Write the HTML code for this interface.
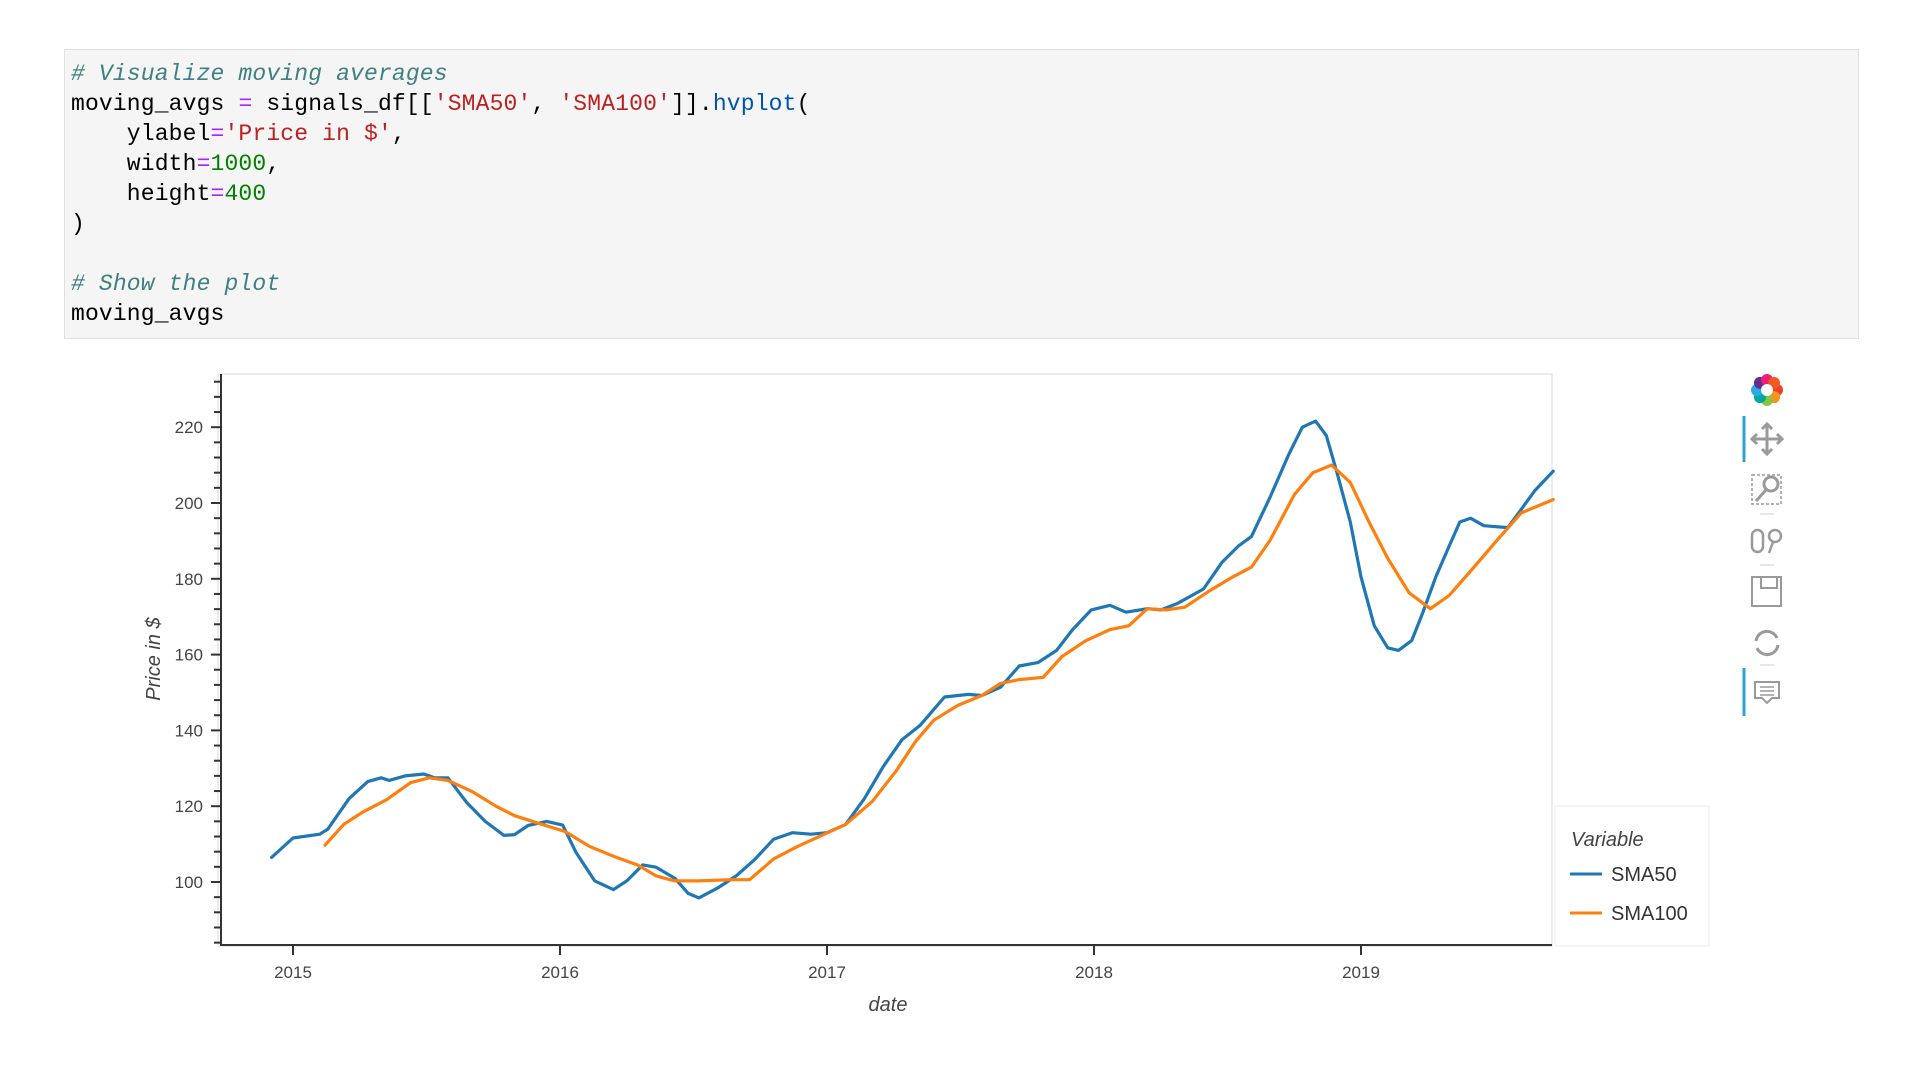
<!DOCTYPE html>
<html><head><meta charset="utf-8"><style>
html,body{margin:0;padding:0;background:#fff;width:1920px;height:1080px;overflow:hidden}
#code{position:absolute;left:64px;top:49px;width:1795px;height:290px;background:#f5f5f5;border:1px solid #e0e0e0;box-sizing:border-box}
#code pre{margin:0;position:absolute;left:6px;top:9px;font-family:"Liberation Mono","DejaVu Sans Mono",monospace;font-size:23px;line-height:30px;color:#000;letter-spacing:0.15px}
.c{color:#408080;font-style:italic}.s{color:#ba2121}.o{color:#aa22ff}.n{color:#008000}.f{color:#0055aa}
svg{position:absolute;left:0;top:0}
</style></head><body>
<div id="code"><pre><span class="c"># Visualize moving averages</span>
moving_avgs <span class="o">=</span> signals_df[[<span class="s">'SMA50'</span>, <span class="s">'SMA100'</span>]].<span class="f">hvplot</span>(
    ylabel<span class="o">=</span><span class="s">'Price in $'</span>,
    width<span class="o">=</span><span class="n">1000</span>,
    height<span class="o">=</span><span class="n">400</span>
)

<span class="c"># Show the plot</span>
moving_avgs</pre></div>
<svg id="chart" width="1920" height="1080" xmlns="http://www.w3.org/2000/svg"></svg>
<script>
const sma50Years=[2014.92,2015.00,2015.10,2015.13,2015.21,2015.28,2015.33,2015.36,2015.42,2015.49,2015.53,2015.58,2015.65,2015.72,2015.79,2015.83,2015.88,2015.95,2016.01,2016.06,2016.13,2016.20,2016.25,2016.31,2016.36,2016.43,2016.48,2016.52,2016.59,2016.66,2016.73,2016.80,2016.87,2016.94,2017.00,2017.07,2017.14,2017.21,2017.28,2017.35,2017.44,2017.53,2017.58,2017.65,2017.72,2017.79,2017.86,2017.92,2017.99,2018.06,2018.12,2018.20,2018.25,2018.31,2018.41,2018.48,2018.54,2018.59,2018.66,2018.73,2018.78,2018.83,2018.87,2018.91,2018.96,2019.00,2019.05,2019.10,2019.14,2019.19,2019.23,2019.28,2019.33,2019.37,2019.41,2019.46,2019.55,2019.60,2019.65,2019.72];
const sma50Values=[106.5,111.6,112.6,113.9,122,126.5,127.5,126.8,128,128.5,127.5,127.5,121,116,112.3,112.5,114.9,116,115,107.8,100.3,98,100.3,104.5,103.9,101,97,95.8,98.4,101.6,106,111.3,113,112.6,113,115.2,122,130.4,137.5,141.4,148.8,149.5,149.2,151.4,157,157.9,161.1,166.6,171.8,173,171.2,172.1,171.8,173.4,177.3,184.4,188.6,191.2,201.6,212.9,220,221.6,217.8,208,195,180.5,167.6,161.8,161.1,163.7,170.8,180.5,188.6,195,196,194,193.5,198.3,203.2,208.4];
const sma100Years=[2015.12,2015.19,2015.26,2015.35,2015.44,2015.51,2015.58,2015.67,2015.76,2015.83,2015.92,2016.02,2016.11,2016.20,2016.29,2016.36,2016.43,2016.52,2016.64,2016.71,2016.80,2016.89,2016.98,2017.07,2017.17,2017.26,2017.33,2017.40,2017.49,2017.58,2017.65,2017.72,2017.81,2017.88,2017.97,2018.06,2018.13,2018.20,2018.27,2018.34,2018.43,2018.52,2018.59,2018.66,2018.75,2018.82,2018.89,2018.96,2019.03,2019.10,2019.18,2019.26,2019.33,2019.42,2019.51,2019.60,2019.72];
const sma100Values=[109.7,115.2,118.4,121.7,126.2,127.5,126.8,123.9,120,117.5,115.5,113.3,109.4,106.8,104.5,101.6,100.3,100.3,100.6,100.6,106.1,109.4,112.3,115.2,121.3,129.4,136.9,142.7,146.6,149.2,152.4,153.4,154,159.5,163.7,166.6,167.6,172.1,171.8,172.5,176.7,180.5,183.1,190.2,202.2,208,210,205.4,195,185.4,176.3,172.1,175.6,182.8,190.2,197.4,200.9];
const xTickYears=[2015,2016,2017,2018,2019];
const yTickValues=[100,120,140,160,180,200,220];
const seriesNames=["SMA50","SMA100"];

const svg=document.getElementById('chart');
const NS='http://www.w3.org/2000/svg';
const L=218,R=1552,T=374,B=946;
function xs(yr){return 293+(yr-2015)*267;}
function ys(v){return 882-(v-100)*3.79;}
function mk(tag,attrs,parent){const e=document.createElementNS(NS,tag);for(const k in attrs)e.setAttribute(k,attrs[k]);(parent||svg).appendChild(e);return e;}

const frame=mk('rect',{x:L,y:T,width:R-L,height:B-T,fill:'#fff',stroke:'#e5e5e5','stroke-width':1.5});



const yAxis=mk('g',{});


mk('line',{x1:221,y1:T,x2:221,y2:B,stroke:'#333','stroke-width':2},yAxis);
for(let v=84;v<=232;v+=4){
  const major=yTickValues.includes(v);
  mk('line',{x1:major?211:214,y1:ys(v),x2:221,y2:ys(v),stroke:'#333','stroke-width':2},yAxis);
}
yTickValues.forEach(v=>{
  const t=mk('text',{x:203,y:ys(v)+6,'text-anchor':'end','font-family':'Liberation Sans, sans-serif','font-size':17,fill:'#444'},yAxis);
  t.textContent=v;
  
  
});
const yl=mk('text',{x:0,y:0,transform:'translate(160,659) rotate(-90)','text-anchor':'middle','font-family':'Liberation Sans, sans-serif','font-size':20,'font-style':'italic',fill:'#444'});
yl.textContent='Price in $';



const xAxis=mk('g',{});


mk('line',{x1:221,y1:945,x2:R,y2:945,stroke:'#333','stroke-width':2},xAxis);
xTickYears.forEach(yr=>{
  mk('line',{x1:xs(yr),y1:945,x2:xs(yr),y2:955,stroke:'#333','stroke-width':2},xAxis);
  const t=mk('text',{x:xs(yr),y:978,'text-anchor':'middle','font-family':'Liberation Sans, sans-serif','font-size':17,fill:'#444'},xAxis);
  t.textContent=yr;
  
  
});
const xl=mk('text',{x:888,y:1011,'text-anchor':'middle','font-family':'Liberation Sans, sans-serif','font-size':20,'font-style':'italic',fill:'#444'});
xl.textContent='date';



function line(xv,yv,color,name){
  const d=xv.map((x,i)=>(i?'L':'M')+xs(x).toFixed(1)+','+ys(yv[i]).toFixed(1)).join(' ');
  const p=mk('path',{d:d,fill:'none',stroke:color,'stroke-width':3.2,'stroke-linejoin':'round','stroke-linecap':'round'});
  
  
}
line(sma50Years,sma50Values,'#1f77b4','sma50-line');
line(sma100Years,sma100Values,'#ff7f0e','sma100-line');

const lg=mk('g',{});


mk('rect',{x:1555,y:806,width:154,height:140,fill:'#fff',stroke:'#eee'},lg);
const lt=mk('text',{x:1571,y:846,'font-family':'Liberation Sans, sans-serif','font-size':20,'font-style':'italic',fill:'#444'},lg);
lt.textContent='Variable';


const cols=['#1f77b4','#ff7f0e'];
seriesNames.forEach((n,i)=>{
  const g=mk('g',{},lg);
  
  
  const yy=874+i*39;
  mk('line',{x1:1570,y1:yy,x2:1602,y2:yy,stroke:cols[i],'stroke-width':3},g);
  const t=mk('text',{x:1611,y:yy+7,'font-family':'Liberation Sans, sans-serif','font-size':20,fill:'#333'},g);
  t.textContent=n;
});

const tb=mk('g',{});


const logoCols=['#e8412c','#f7931e','#8bc53f','#00a99d','#29abe2','#662d91','#ed1e79','#f15a24'];
logoCols.forEach((c,i)=>{
  const a=i*Math.PI/4;
  mk('circle',{cx:1767+10*Math.cos(a),cy:390+10*Math.sin(a),r:6,fill:c},tb);
});
mk('circle',{cx:1767,cy:390,r:6,fill:'#fff'},tb);
const gray='#9a9a9a';
mk('line',{x1:1744,y1:416,x2:1744,y2:462,stroke:'#2ea0db','stroke-width':3},tb);
mk('line',{x1:1744,y1:668,x2:1744,y2:716,stroke:'#2ea0db','stroke-width':3},tb);
function tool(name,y,draw){const g=mk('g',{},tb);draw(g,y);}
tool('pan-tool',439,(g,y)=>{mk('path',{d:`M1752 ${y}H1782M1767 ${y-15}V${y+15}M1762 ${y-10}L1767 ${y-15}L1772 ${y-10}M1762 ${y+10}L1767 ${y+15}L1772 ${y+10}M1757 ${y-5}L1752 ${y}L1757 ${y+5}M1777 ${y-5}L1782 ${y}L1777 ${y+5}`,stroke:gray,'stroke-width':3,fill:'none'},g);});
tool('box-zoom-tool',490,(g,y)=>{mk('rect',{x:1752,y:y-15,width:29,height:29,fill:'none',stroke:gray,'stroke-width':1.5,'stroke-dasharray':'3 2'},g);mk('circle',{cx:1771,cy:y-6,r:7,fill:'none',stroke:gray,'stroke-width':3},g);mk('line',{x1:1766,y1:y,x2:1756,y2:y+11,stroke:gray,'stroke-width':3},g);});
mk('line',{x1:1760,y1:514,x2:1774,y2:514,stroke:'#ccc'},tb);
tool('wheel-zoom-tool',541,(g,y)=>{mk('rect',{x:1752,y:y-11,width:11,height:22,rx:5.5,fill:'none',stroke:gray,'stroke-width':2.5},g);mk('circle',{cx:1775,cy:y-5,r:6,fill:'none',stroke:gray,'stroke-width':2.5},g);mk('line',{x1:1773,y1:y+1,x2:1769,y2:y+12,stroke:gray,'stroke-width':2.5},g);});
mk('line',{x1:1760,y1:565,x2:1774,y2:565,stroke:'#ccc'},tb);
tool('save-tool',591,(g,y)=>{mk('rect',{x:1752,y:y-14,width:29,height:29,fill:'none',stroke:gray,'stroke-width':2},g);mk('path',{d:`M1761 ${y-14}V${y-3}H1777V${y-14}`,fill:'none',stroke:gray,'stroke-width':2},g);});
tool('reset-tool',643,(g,y)=>{mk('path',{d:`M1756 ${y-2}A11 11 0 0 1 1777 ${y-5}M1778 ${y+2}A11 11 0 0 1 1757 ${y+5}`,fill:'none',stroke:gray,'stroke-width':3},g);});
mk('line',{x1:1760,y1:665,x2:1774,y2:665,stroke:'#ccc'},tb);
tool('hover-tool',693,(g,y)=>{mk('path',{d:`M1755 ${y-11}H1779V${y+5}H1772L1767 ${y+10}L1762 ${y+5}H1755Z`,fill:'none',stroke:gray,'stroke-width':2},g);mk('path',{d:`M1760 ${y-6}H1774M1760 ${y-2}H1774M1760 ${y+2}H1774`,stroke:gray,'stroke-width':1.5},g);});
</script>
</body></html>
